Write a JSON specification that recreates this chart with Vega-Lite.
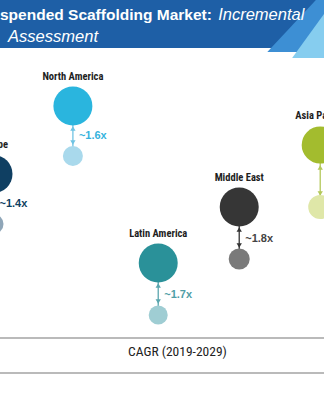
{
  "$schema": "https://vega.github.io/schema/vega-lite/v6.json",
  "width": 324,
  "height": 405,
  "padding": 0,
  "autosize": {"type": "fit", "contains": "padding"},
  "background": "#ffffff",
  "config": {"view": {"stroke": null}},
  "datasets": {
    "regions": [
      {"region": "North America", "cagr": 4.35, "y2029": 73.83, "y2019": 61.48, "v2029": 95, "v2019": 25, "mult": "~1.6x"},
      {"region": "Europe", "cagr": 2.88, "y2029": 57.04, "y2019": 44.69, "v2029": 90, "v2019": 25, "mult": "~1.4x"},
      {"region": "Latin America", "cagr": 5.93, "y2029": 35.06, "y2019": 22.22, "v2029": 95, "v2019": 22.6, "mult": "~1.7x"},
      {"region": "Middle East", "cagr": 7.43, "y2029": 48.89, "y2019": 36.05, "v2029": 95, "v2019": 27.6, "mult": "~1.8x"},
      {"region": "Asia Pacific", "cagr": 8.93, "y2029": 64.2, "y2019": 48.89, "v2029": 86, "v2019": 36, "mult": null}
    ],
    "stripes": [
      {"band": "mid", "ypos": 100, "xl": 8.85, "xr": 9.0},
      {"band": "mid", "ypos": 87.16, "xl": 7.95, "xr": 9.0},
      {"band": "light", "ypos": 96.54, "xl": 9.0, "xr": 9.0},
      {"band": "light", "ypos": 85.68, "xl": 8.41, "xr": 9.0}
    ],
    "lines": [
      {"line": "upper", "ypos": 16.54},
      {"line": "lower", "ypos": 7.9}
    ],
    "titles": [
      {"part": "a", "text": "spended Scaffolding Market:", "cagr": 3.0, "ypos": 96.3},
      {"part": "b", "text": "Incremental", "cagr": 7.04, "ypos": 96.3},
      {"part": "c", "text": "Assessment", "cagr": 3.15, "ypos": 90.86},
      {"part": "d", "text": "CAGR (2019-2029)", "cagr": 6.287, "ypos": 13.09}
    ]
  },
  "layer": [
    {
      "data": {"values": [{"part": "banner"}]},
      "mark": {"type": "rect", "clip": true, "color": "#1e5fa6"},
      "encoding": {
        "x": {"datum": 3, "type": "quantitative", "scale": {"domain": [3, 9], "nice": false, "zero": false}, "axis": null},
        "x2": {"datum": 9},
        "y": {"datum": 88.15, "type": "quantitative", "scale": {"domain": [0, 100], "nice": false, "zero": false}, "axis": null},
        "y2": {"datum": 100}
      }
    },
    {
      "data": {"name": "stripes"},
      "mark": {"type": "area", "orient": "horizontal", "clip": true},
      "encoding": {
        "y": {"field": "ypos", "type": "quantitative", "scale": {"domain": [0, 100], "nice": false, "zero": false}, "axis": null},
        "x": {"field": "xl", "type": "quantitative", "scale": {"domain": [3, 9], "nice": false, "zero": false}, "axis": null},
        "x2": {"field": "xr"},
        "color": {"field": "band", "type": "nominal", "scale": {"domain": ["mid", "light"], "range": ["#3d8fd4", "#86cdef"]}, "legend": null}
      }
    },
    {
      "data": {"name": "lines"},
      "mark": {"type": "rule", "clip": true, "color": "#a3a3a3", "strokeWidth": 1.5},
      "encoding": {
        "y": {"field": "ypos", "type": "quantitative", "scale": {"domain": [0, 100], "nice": false, "zero": false}, "axis": null}
      }
    },
    {
      "data": {"name": "titles"},
      "transform": [{"filter": "datum.part == 'a'"}],
      "mark": {"type": "text", "clip": true, "align": "left", "baseline": "middle", "font": "Liberation Sans", "fontWeight": "bold", "fontSize": 15.5, "color": "#ffffff"},
      "encoding": {
        "x": {"field": "cagr", "type": "quantitative", "scale": {"domain": [3, 9], "nice": false, "zero": false}, "axis": null},
        "y": {"field": "ypos", "type": "quantitative", "scale": {"domain": [0, 100], "nice": false, "zero": false}, "axis": null},
        "text": {"field": "text"}
      }
    },
    {
      "data": {"name": "titles"},
      "transform": [{"filter": "datum.part == 'b' || datum.part == 'c'"}],
      "mark": {"type": "text", "clip": true, "align": "left", "baseline": "middle", "font": "Liberation Sans", "fontStyle": "italic", "fontSize": 16.5, "color": "#ffffff"},
      "encoding": {
        "x": {"field": "cagr", "type": "quantitative", "scale": {"domain": [3, 9], "nice": false, "zero": false}, "axis": null},
        "y": {"field": "ypos", "type": "quantitative", "scale": {"domain": [0, 100], "nice": false, "zero": false}, "axis": null},
        "text": {"field": "text"}
      }
    },
    {
      "data": {"name": "titles"},
      "transform": [{"filter": "datum.part == 'd'"}],
      "mark": {"type": "text", "clip": true, "align": "center", "baseline": "middle", "font": "Liberation Sans Narrow, Roboto Condensed, DejaVu Sans Condensed, sans-serif", "fontSize": 13.5, "color": "#222222"},
      "encoding": {
        "x": {"field": "cagr", "type": "quantitative", "scale": {"domain": [3, 9], "nice": false, "zero": false}, "axis": null},
        "y": {"field": "ypos", "type": "quantitative", "scale": {"domain": [0, 100], "nice": false, "zero": false}, "axis": null},
        "text": {"field": "text"}
      }
    },
    {
      "data": {"name": "regions"},
      "mark": {"type": "rule", "clip": true, "strokeWidth": 1.3},
      "encoding": {
        "x": {"field": "cagr", "type": "quantitative", "scale": {"domain": [3, 9], "nice": false, "zero": false}, "axis": null},
        "y": {"field": "y2019", "type": "quantitative", "scale": {"domain": [0, 100], "nice": false, "zero": false}, "axis": null},
        "y2": {"field": "y2029"},
        "color": {"field": "region", "type": "nominal", "scale": {"domain": ["North America", "Europe", "Latin America", "Middle East", "Asia Pacific"], "range": ["#6fc3e3", "#3c6180", "#5aa6ae", "#333333", "#b3c85a"]}, "legend": null}
      }
    },
    {
      "data": {"name": "regions"},
      "mark": {"type": "point", "clip": true, "shape": "triangle-up", "filled": true, "opacity": 1, "size": 28, "yOffset": 22.5},
      "encoding": {
        "x": {"field": "cagr", "type": "quantitative", "scale": {"domain": [3, 9], "nice": false, "zero": false}, "axis": null},
        "y": {"field": "y2029", "type": "quantitative", "scale": {"domain": [0, 100], "nice": false, "zero": false}, "axis": null},
        "color": {"field": "region", "type": "nominal", "scale": {"domain": ["North America", "Europe", "Latin America", "Middle East", "Asia Pacific"], "range": ["#6fc3e3", "#3c6180", "#5aa6ae", "#333333", "#b3c85a"]}, "legend": null}
      }
    },
    {
      "data": {"name": "regions"},
      "mark": {"type": "point", "clip": true, "shape": "triangle-down", "filled": true, "opacity": 1, "size": 28, "yOffset": -13.5},
      "encoding": {
        "x": {"field": "cagr", "type": "quantitative", "scale": {"domain": [3, 9], "nice": false, "zero": false}, "axis": null},
        "y": {"field": "y2019", "type": "quantitative", "scale": {"domain": [0, 100], "nice": false, "zero": false}, "axis": null},
        "color": {"field": "region", "type": "nominal", "scale": {"domain": ["North America", "Europe", "Latin America", "Middle East", "Asia Pacific"], "range": ["#6fc3e3", "#3c6180", "#5aa6ae", "#333333", "#b3c85a"]}, "legend": null}
      }
    },
    {
      "data": {"name": "regions"},
      "mark": {"type": "point", "clip": true, "shape": "circle", "filled": true, "opacity": 1, "strokeWidth": 0},
      "encoding": {
        "x": {"field": "cagr", "type": "quantitative", "scale": {"domain": [3, 9], "nice": false, "zero": false}, "axis": null},
        "y": {"field": "y2019", "type": "quantitative", "scale": {"domain": [0, 100], "nice": false, "zero": false}, "axis": null},
        "size": {"field": "v2019", "type": "quantitative", "scale": {"type": "linear", "domain": [0, 100], "range": [0, 1600], "zero": true}, "legend": null},
        "color": {"field": "region", "type": "nominal", "scale": {"domain": ["North America", "Europe", "Latin America", "Middle East", "Asia Pacific"], "range": ["#a9d9ec", "#8fa6b8", "#9fcdd3", "#7a7a7a", "#dfe7a8"]}, "legend": null}
      }
    },
    {
      "data": {"name": "regions"},
      "mark": {"type": "point", "clip": true, "shape": "circle", "filled": true, "opacity": 1, "strokeWidth": 0},
      "encoding": {
        "x": {"field": "cagr", "type": "quantitative", "scale": {"domain": [3, 9], "nice": false, "zero": false}, "axis": null},
        "y": {"field": "y2029", "type": "quantitative", "scale": {"domain": [0, 100], "nice": false, "zero": false}, "axis": null},
        "size": {"field": "v2029", "type": "quantitative", "scale": {"type": "linear", "domain": [0, 100], "range": [0, 1600], "zero": true}, "legend": null},
        "color": {"field": "region", "type": "nominal", "scale": {"domain": ["North America", "Europe", "Latin America", "Middle East", "Asia Pacific"], "range": ["#2ab5de", "#0f3f62", "#2a9199", "#363636", "#a3bc2e"]}, "legend": null}
      }
    },
    {
      "data": {"name": "regions"},
      "mark": {"type": "text", "clip": true, "align": "center", "baseline": "middle", "dy": -29, "font": "Liberation Sans Narrow, Roboto Condensed, DejaVu Sans Condensed, sans-serif", "fontWeight": "bold", "fontSize": 10.5, "color": "#1e1e1e"},
      "encoding": {
        "x": {"field": "cagr", "type": "quantitative", "scale": {"domain": [3, 9], "nice": false, "zero": false}, "axis": null},
        "y": {"field": "y2029", "type": "quantitative", "scale": {"domain": [0, 100], "nice": false, "zero": false}, "axis": null},
        "text": {"field": "region"}
      }
    },
    {
      "data": {"name": "regions"},
      "transform": [{"filter": "isValid(datum.mult)"}],
      "mark": {"type": "text", "clip": true, "align": "left", "baseline": "middle", "dx": 6, "dy": -20, "font": "Liberation Sans", "fontWeight": "bold", "fontSize": 11},
      "encoding": {
        "x": {"field": "cagr", "type": "quantitative", "scale": {"domain": [3, 9], "nice": false, "zero": false}, "axis": null},
        "y": {"field": "y2019", "type": "quantitative", "scale": {"domain": [0, 100], "nice": false, "zero": false}, "axis": null},
        "text": {"field": "mult"},
        "color": {"field": "region", "type": "nominal", "scale": {"domain": ["North America", "Europe", "Latin America", "Middle East", "Asia Pacific"], "range": ["#35b3dd", "#0f3f62", "#4f9ea6", "#444444", "#8aa21f"]}, "legend": null}
      }
    }
  ],
  "resolve": {"scale": {"color": "independent"}}
}
